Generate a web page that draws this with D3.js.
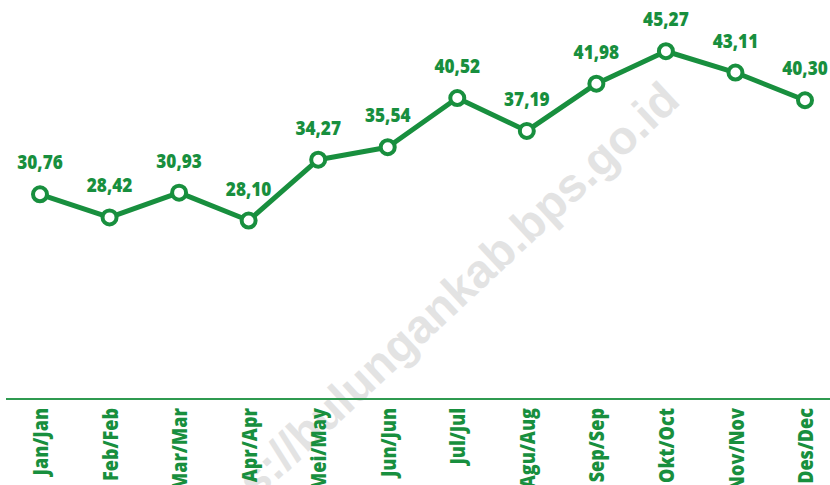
<!DOCTYPE html>
<html><head><meta charset="utf-8">
<script src="https://cdn.jsdelivr.net/npm/d3@7"></script>
<style>
html,body{margin:0;padding:0;background:#fff;}
svg{display:block;}
.cf{font-family:"Open Sans","Noto Sans",sans-serif;font-weight:800;}
</style></head>
<body>
<svg id="c" width="830" height="485"></svg>
<script>
const categories = ["Jan/Jan","Feb/Feb","Mar/Mar","Apr/Apr","Mei/May","Jun/Jun","Jul/Jul","Agu/Aug","Sep/Sep","Okt/Oct","Nov/Nov","Des/Dec"];
const values = [30.76,28.42,30.93,28.10,34.27,35.54,40.52,37.19,41.98,45.27,43.11,40.30];
const valueLabels = ["30,76","28,42","30,93","28,10","34,27","35,54","40,52","37,19","41,98","45,27","43,11","40,30"];
const watermark = "https://bulungankab.bps.go.id";

const W = 830, H = 485;
const green = "#188f3e";
const svg = d3.select("#c");

const x = d3.scalePoint().domain(categories).range([40, 805]);
const y = d3.scaleLinear().domain([10, 50]).range([399, 4.6]);

// watermark
svg.append("text")
  .attr("transform", "translate(682,103) rotate(-43)")
  .attr("text-anchor", "end")
  .attr("font-family", "Liberation Sans, Arial, sans-serif")
  .attr("font-weight", "bold")
  .attr("font-size", 47)
  .attr("fill", "#e3e3e3")
  .text(watermark);

// axis
const sx = 0.86;
const axis = svg.append("g").attr("transform", `translate(0,399)`)
  .call(d3.axisBottom(x).tickSize(0).tickPadding(0));
axis.select(".domain").remove();
axis.append("line").attr("x1", 6).attr("x2", W).attr("y1", 0).attr("y2", 0)
  .attr("stroke", "#2f9a50").attr("stroke-width", 2);
axis.selectAll(".tick text")
  .attr("class", "cf")
  .attr("transform", `rotate(-90) scale(${sx},1)`)
  .attr("text-anchor", "end")
  .attr("x", -9 / sx).attr("y", 0).attr("dy", "0.36em")
  .attr("font-size", 21)
  .attr("fill", green);

// line
const line = d3.line().x((d, i) => x(categories[i])).y(d => y(d));
svg.append("path").datum(values)
  .attr("d", line).attr("fill", "none")
  .attr("stroke", green).attr("stroke-width", 5).attr("stroke-linejoin", "round");

svg.selectAll("circle.pt").data(values).enter().append("circle")
  .attr("class", "pt")
  .attr("cx", (d, i) => x(categories[i])).attr("cy", d => y(d))
  .attr("r", 7).attr("fill", "#fff").attr("stroke", green).attr("stroke-width", 4);

svg.selectAll("text.lbl").data(values).enter().append("text")
  .attr("class", "lbl cf")
  .attr("transform", (d, i) => `translate(${x(categories[i])},${y(d) - 25}) scale(0.86,1)`)
  .attr("text-anchor", "middle")
  .attr("font-size", 20)
  .attr("fill", green)
  .text((d, i) => valueLabels[i]);
</script>
</body></html>
